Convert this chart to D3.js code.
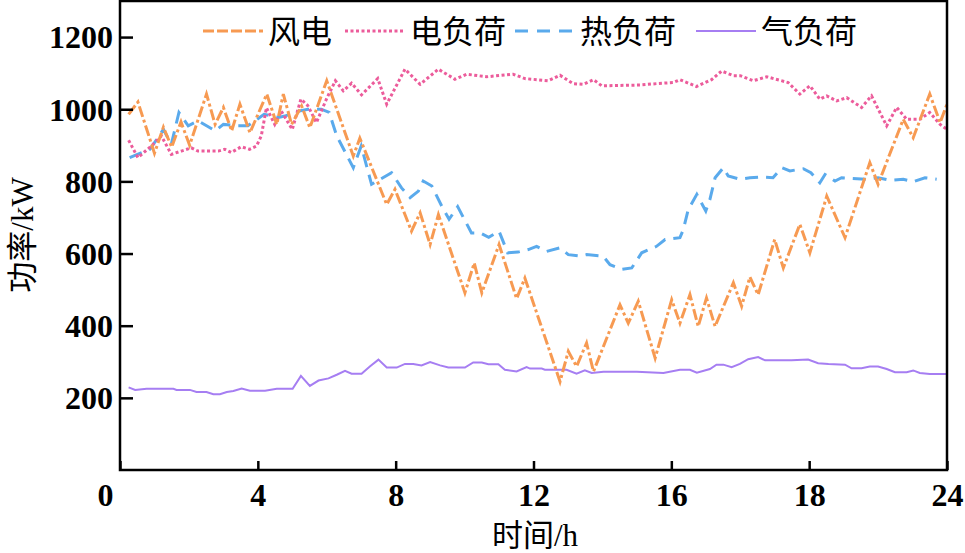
<!DOCTYPE html>
<html>
<head>
<meta charset="utf-8">
<script src="https://cdn.jsdelivr.net/npm/d3@7"></script>
<style>
  body { margin: 0; background: #fff; }
  svg { display: block; }
  text { font-family: "Liberation Serif", "Noto Sans CJK SC", serif; fill: #000; }
</style>
</head>
<body>
<svg width="965" height="553"></svg>
<script>
// hour / kW pairs
const wind = [[0.25,986],[0.52,1020],[1.0,878],[1.26,950],[1.5,895],[1.77,965],[2.02,900],[2.51,1042],
  [2.76,958],[3.0,1005],[3.24,940],[3.48,1014],[3.77,935],[4.26,1042],[4.55,958],[4.74,1042],[4.98,958],
  [5.27,1009],[5.51,949],[6.0,1079],[6.77,870],[6.96,920],[7.74,736],[7.98,778],[8.46,662],[8.71,713],
  [9.0,625],[9.24,708],[10.01,491],[10.28,574],[10.5,491],[11.0,625],[11.51,475],[11.75,532],[12.77,245],
  [13.01,329],[13.25,287],[13.54,352],[13.74,273],[14.51,458],[14.75,407],[15.04,468],[15.53,310],
  [16.01,472],[16.25,407],[16.54,486],[16.78,398],[17.02,477],[17.27,398],[17.8,519],[18.04,454],
  [18.28,535],[18.52,486],[19.0,639],[19.25,560],[19.73,681],[20.02,602],[20.51,759],[21.04,644],
  [21.76,852],[22.0,792],[22.73,972],[23.02,921],[23.5,1042],[23.8,963],[24.0,1014]];

const elecLoad = [[0.25,914],[0.52,866],[0.91,898],[1.2,926],[1.49,875],[1.78,884],[2.07,893],[2.26,884],
  [2.85,884],[3.04,889],[3.23,880],[3.52,896],[3.76,889],[3.96,898],[4.1,926],[4.25,1004],[4.49,958],
  [4.68,995],[5.0,944],[5.25,1028],[5.45,1010],[5.7,963],[6.0,1030],[6.25,1079],[6.48,1051],[6.72,1072],
  [7.01,1040],[7.48,1085],[7.74,1014],[8.27,1111],[8.71,1069],[9.24,1111],[9.72,1083],[10.06,1097],
  [10.64,1090],[11.41,1097],[11.75,1085],[12.09,1082],[12.43,1079],[12.77,1094],[13.15,1071],[13.44,1069],
  [13.74,1082],[13.98,1065],[15.09,1067],[15.57,1071],[16.06,1074],[16.25,1082],[16.73,1063],[17.17,1082],
  [17.46,1106],[17.8,1093],[18.0,1093],[18.38,1079],[18.77,1090],[19.39,1074],[19.73,1042],[20.02,1065],
  [20.31,1028],[20.51,1037],[20.8,1023],[21.09,1032],[21.52,1005],[21.81,1037],[22.25,954],[22.54,1005],
  [22.83,972],[23.21,972],[23.5,991],[23.8,958],[24.0,944]];

const heatLoad = [[0.28,866],[0.87,889],[1.26,944],[1.49,903],[1.71,991],[1.98,954],[2.27,968],[2.76,940],
  [3.0,958],[3.42,954],[3.71,954],[4.18,986],[4.6,977],[4.78,981],[5.2,995],[5.46,1000],[5.84,1000],
  [6.07,991],[6.29,926],[6.77,838],[7.0,898],[7.3,792],[7.88,824],[8.17,782],[8.42,755],[8.66,773],
  [8.8,801],[9.05,787],[9.34,731],[9.55,695],[9.8,730],[10.2,657],[10.45,657],[10.7,645],[11.0,662],
  [11.25,602],[11.55,604],[11.85,611],[12.09,620],[12.38,606],[12.77,616],[13.01,597],[13.35,593],
  [13.54,597],[14.02,593],[14.22,569],[14.56,556],[14.85,560],[15.14,602],[15.57,620],[15.82,639],
  [16.25,644],[16.35,667],[16.49,722],[16.74,764],[17.0,718],[17.12,750],[17.27,810],[17.51,838],
  [17.65,815],[17.99,806],[18.28,810],[18.6,812],[18.95,810],[19.2,838],[19.44,829],[19.83,835],
  [20.05,824],[20.31,796],[20.46,819],[20.75,801],[20.94,810],[21.66,806],[22.0,810],[22.34,803],
  [22.73,806],[23.02,799],[23.36,810],[23.7,806]];

const gasLoad = [[0.25,229],[0.44,222],[0.77,225],[1.55,225],[1.64,222],[2.03,222],[2.22,216],[2.51,216],
  [2.71,210],[2.9,210],[3.1,216],[3.29,219],[3.53,226],[3.77,220],[4.21,220],[4.55,225],[5.01,225],
  [5.25,261],[5.51,233],[5.76,248],[6.05,254],[6.29,264],[6.53,275],[6.72,267],[7.01,267],[7.25,287],
  [7.5,306],[7.74,284],[8.03,284],[8.27,294],[8.51,294],[8.75,290],[9.0,299],[9.29,290],[9.53,284],
  [10.01,284],[10.25,298],[10.5,298],[10.69,293],[10.98,293],[11.17,278],[11.51,273],[11.8,285],
  [11.9,281],[12.24,281],[12.33,278],[12.96,278],[13.25,267],[13.49,276],[13.69,269],[14.03,272],
  [15.0,272],[15.77,269],[16.25,278],[16.54,278],[16.74,270],[17.12,280],[17.31,292],[17.51,292],
  [17.75,285],[17.99,294],[18.23,307],[18.52,313],[18.72,304],[19.49,304],[19.97,306],[20.26,296],
  [20.56,294],[21.04,292],[21.23,282],[21.52,282],[21.76,287],[22.0,287],[22.25,280],[22.49,271],
  [22.83,271],[23.02,276],[23.21,269],[23.5,266],[24.0,266]];

const seriesNames = ["风电", "电负荷", "热负荷", "气负荷"];
const xTicks = [0, 4, 8, 12, 16, 20, 24];
const xTickLabels = ["0", "4", "8", "12", "16", "18", "24"];
const yTicks = [200, 400, 600, 800, 1000, 1200];

const svg = d3.select("svg");
const plotLeft = 120, plotRight = 947, plotTop = 1, plotBottom = 470;

const x = d3.scaleLinear().domain([0, 24]).range([plotLeft, plotRight]);
const y = d3.scaleLinear().domain([0, 1300]).range([plotBottom, plotTop]);

// line styles per series
const styles = [
  { data: wind,     color: "#F79A52", width: 3, dash: "11,3,3,3" },
  { data: elecLoad, color: "#EC5C9B", width: 3, dash: "3,2.5" },
  { data: heatLoad, color: "#5AAAEC", width: 3, dash: "13,8" },
  { data: gasLoad,  color: "#A67EF2", width: 2, dash: null }
];

const line = d3.line()
  .x(d => x(d[0]))
  .y(d => y(d[1]));

// gas, heat, elec, then wind on top
[3, 2, 1, 0].forEach(i => {
  const s = styles[i];
  svg.append("path")
    .datum(s.data)
    .attr("fill", "none")
    .attr("stroke", s.color)
    .attr("stroke-width", s.width)
    .attr("stroke-dasharray", s.dash)
    .attr("d", line);
});

// axes, ticks pointing inward
const yAxis = svg.append("g")
  .attr("transform", `translate(${plotLeft},0)`)
  .call(d3.axisLeft(y).tickValues(yTicks).tickFormat(d3.format("d")).tickSize(-13).tickPadding(7));

const xAxis = svg.append("g")
  .attr("transform", `translate(0,${plotBottom})`)
  .call(d3.axisBottom(x).tickValues(xTicks).tickFormat((d, i) => xTickLabels[i])
    .tickSize(-9).tickPadding(13));

[xAxis, yAxis].forEach(g => {
  g.select(".domain").remove();
  g.selectAll("line").attr("stroke", "#000").attr("stroke-width", 2.5);
  g.selectAll("text")
    .attr("font-family", "Liberation Serif, serif")
    .attr("font-size", 32)
    .attr("font-weight", "bold")
    .attr("fill", "#000");
});
yAxis.selectAll("text").attr("dy", "0.34em");
xAxis.selectAll("text").filter(d => d === 0).attr("dx", -15);

// frame
svg.append("rect")
  .attr("x", plotLeft).attr("y", plotTop)
  .attr("width", plotRight - plotLeft).attr("height", plotBottom - plotTop)
  .attr("fill", "none")
  .attr("stroke", "#000")
  .attr("stroke-width", 2.5);

// axis titles
svg.append("text")
  .attr("x", 535).attr("y", 546)
  .attr("text-anchor", "middle")
  .attr("font-size", 31)
  .text("时间/h");

svg.append("text")
  .attr("transform", "translate(33,235) rotate(-90)")
  .attr("text-anchor", "middle")
  .attr("font-size", 31)
  .text("功率/kW");

// legend
const legendX = [203, 345, 515, 696];
const legend = svg.append("g");
styles.forEach((s, i) => {
  const g = legend.append("g").attr("transform", `translate(${legendX[i]},31)`);
  g.append("line")
    .attr("x1", 0).attr("x2", 60)
    .attr("stroke", s.color)
    .attr("stroke-width", s.width)
    .attr("stroke-dasharray", i === 0 ? "11,3" : (i === 2 ? "13,9" : s.dash));
  g.append("text")
    .attr("x", 65)
    .attr("dy", "0.36em")
    .attr("font-size", 32)
    .attr("font-family", "Noto Sans CJK SC, sans-serif")
    .text(seriesNames[i]);
});
</script>
</body>
</html>
